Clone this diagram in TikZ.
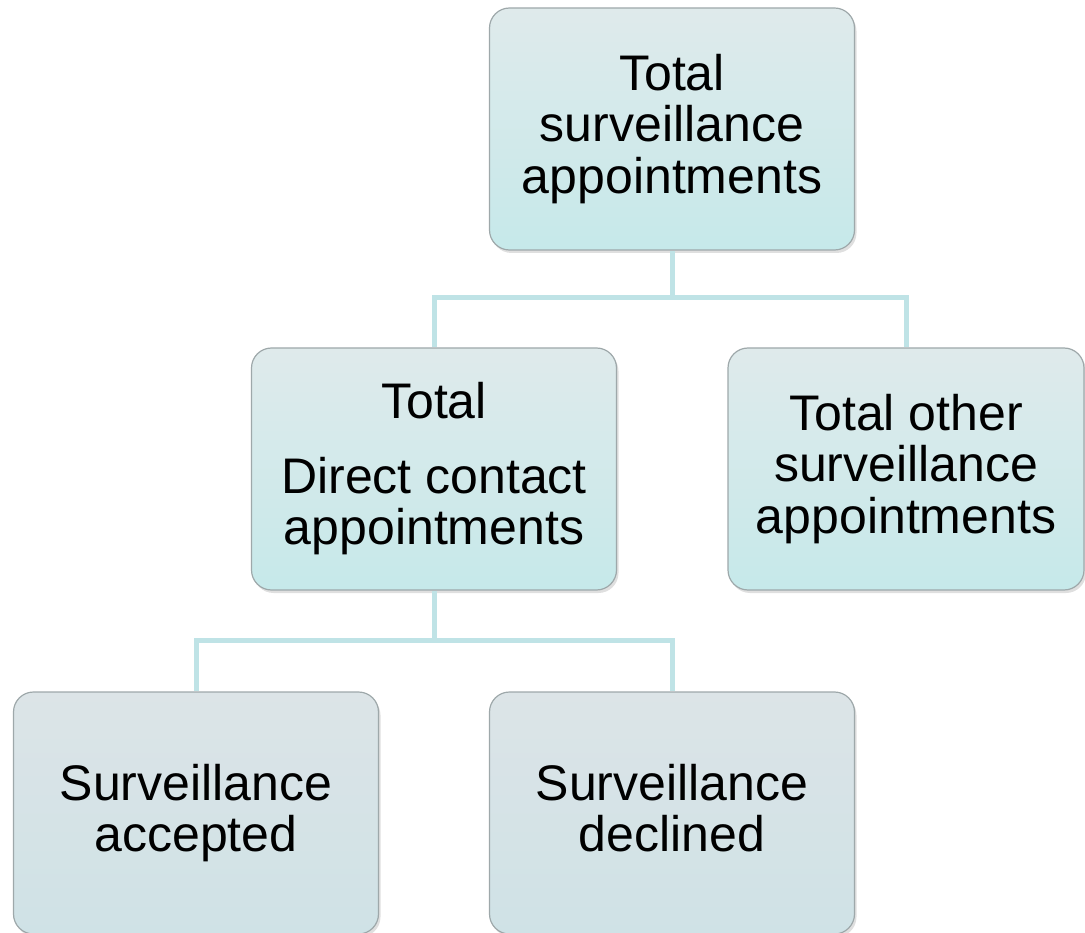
\documentclass[tikz,border=0pt]{standalone}
\usepackage{fontspec}
\setmainfont{Liberation Sans}
\usetikzlibrary{shadows}

\definecolor{boxline}{HTML}{9EA8AA}
\definecolor{boxtop}{HTML}{DFEAEB}
\definecolor{boxbot}{HTML}{C6E9EA}
\definecolor{leaftop}{HTML}{DCE4E7}
\definecolor{leafbot}{HTML}{CFE2E6}
\definecolor{linkcol}{HTML}{BFE3E6}

\begin{document}
\begin{tikzpicture}[x=1pt,y=-1pt,
  box/.style={draw=boxline, line width=1.2pt, rounded corners=20pt,
    minimum width=365pt, minimum height=242pt, inner sep=0pt,
    align=center, font=\fontsize{50}{51.5}\selectfont,
    top color=boxtop, bottom color=boxbot,
    drop shadow={opacity=0.25, shadow xshift=2pt, shadow yshift=-3pt}},
  leaf/.style={box, text depth=10.5pt, top color=leaftop, bottom color=leafbot},
  link/.style={draw=linkcol, line width=5pt}]

\useasboundingbox (0,0) rectangle (1085,933);

% boxes
\node[box] (total) at (672,129) {Total\\surveillance\\appointments};
\node[box] (direct) at (434,469) {Total\\[23pt]Direct contact\\appointments};
\node[box, minimum width=356pt] (other) at (906,469) {Total other\\surveillance\\appointments};
\node[leaf] (accepted) at (196,813) {Surveillance\\accepted};
\node[leaf] (declined) at (672,813) {Surveillance\\declined};

% connectors
\coordinate (j1) at (672,298);
\coordinate (j2) at (434,640);
\draw[link] (total.south) -- (j1) -| (direct.north);
\draw[link] (j1) -| (other.north);
\draw[link] (direct.south) -- (j2) -| (accepted.north);
\draw[link] (j2) -| (declined.north);

\end{tikzpicture}
\end{document}
